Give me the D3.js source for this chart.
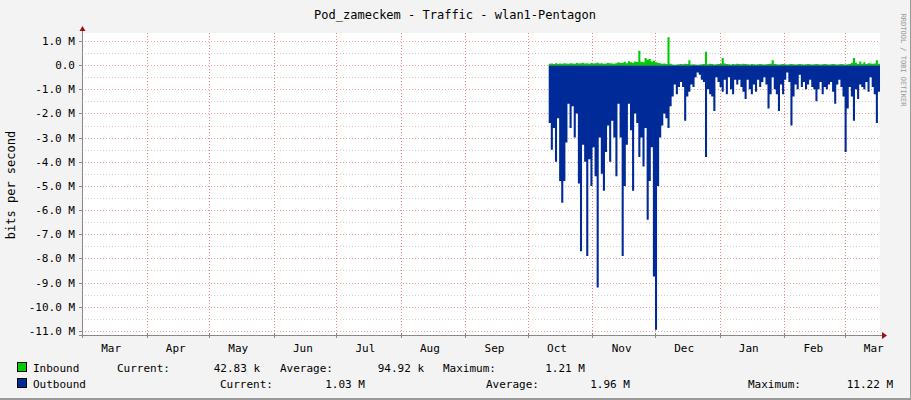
<!DOCTYPE html>
<html><head><meta charset="utf-8">
<script src="https://cdn.jsdelivr.net/npm/d3@7"></script>
<style>body{margin:0;background:#f3f3f3}svg text{font-family:"DejaVu Sans Mono",monospace;font-size:11px;fill:#000}</style>
</head><body><svg id="c" width="911" height="400"></svg>
<script>
const title = "Pod_zameckem - Traffic - wlan1-Pentagon";
const dataStart = "2015-10-11";
const outbound = [2.4,3.5,2.6,4.0,2.2,4.8,5.7,4.8,3.2,1.6,2.6,1.7,3.0,2.0,4.9,7.7,3.3,4.0,7.9,3.9,
5.0,3.4,4.6,9.2,3.0,4.5,5.2,3.6,2.5,4.0,2.3,3.0,4.6,1.6,3.0,7.9,5.0,3.3,1.6,2.7,
5.2,2.0,2.4,3.8,3.0,4.2,2.6,6.4,4.8,3.4,8.75,10.95,5.0,3.0,2.5,2.0,2.2,2.6,1.7,1.3,
0.8,1.2,0.9,0.7,0.9,2.3,1.3,1.1,0.8,0.9,0.5,0.3,0.4,0.6,0.7,3.8,1.0,1.2,1.3,1.9,
0.5,0.7,0.9,1.1,0.6,1.2,0.5,1.0,1.2,0.6,0.8,0.6,0.9,1.1,1.4,0.6,1.0,1.2,0.8,1.1,
0.6,0.9,0.7,0.5,0.8,1.8,1.2,0.5,1.0,1.2,1.9,0.8,1.2,0.6,0.3,0.7,2.5,1.3,0.8,1.0,
0.4,0.9,0.7,1.0,0.8,0.6,0.9,1.0,1.5,1.0,0.7,1.2,0.9,1.0,0.8,0.7,1.1,1.6,0.8,0.6,
0.9,1.3,3.6,1.8,0.9,1.3,2.3,1.0,1.4,0.8,0.9,1.0,0.7,1.1,0.5,0.9,1.2,2.4,1.1,1.0];
const inbound = [0.06,0.07,0.05,0.08,0.06,0.07,0.06,0.08,0.07,0.06,0.08,0.07,0.06,0.09,0.07,0.08,0.1,0.07,0.08,0.06,
0.09,0.07,0.08,0.1,0.07,0.08,0.06,0.07,0.09,0.08,0.07,0.06,0.08,0.12,0.09,0.1,0.14,0.08,0.16,0.12,
0.1,0.15,0.13,0.6,0.14,0.12,0.3,0.22,0.25,0.15,0.18,0.12,0.1,0.08,0.06,0.07,0.05,1.15,0.06,0.03,
0.02,0.03,0.04,0.05,0.04,0.06,0.05,0.2,0.03,0.04,0.03,0.02,0.03,0.04,0.05,0.55,0.04,0.06,0.05,0.03,
0.04,0.05,0.06,0.3,0.07,0.05,0.04,0.03,0.05,0.04,0.06,0.05,0.04,0.06,0.05,0.04,0.03,0.05,0.04,0.03,
0.04,0.05,0.04,0.03,0.04,0.05,0.06,0.2,0.05,0.04,0.03,0.04,0.05,0.04,0.03,0.04,0.05,0.04,0.03,0.04,
0.05,0.04,0.03,0.04,0.05,0.04,0.03,0.04,0.05,0.04,0.03,0.04,0.05,0.04,0.03,0.04,0.05,0.04,0.03,0.04,
0.05,0.04,0.03,0.04,0.05,0.1,0.3,0.1,0.05,0.15,0.06,0.12,0.05,0.08,0.07,0.06,0.07,0.2,0.06,0.05];
const monthLabels = ["Mar","Apr","May","Jun","Jul","Aug","Sep","Oct","Nov","Dec","Jan","Feb","Mar"];
const yTicks = [1,0,-1,-2,-3,-4,-5,-6,-7,-8,-9,-10,-11];
const legendRows = [
 {name:"Inbound",color:"#00cc00",items:[["Current:",117],["42.83 k",260,"end"],["Average:",280],["94.92 k",424,"end"],["Maximum:",443],["1.21 M",585,"end"]]},
 {name:"Outbound",color:"#002a97",items:[["Current:",220],["1.03 M",365,"end"],["Average:",486],["1.96 M",630,"end"],["Maximum:",748],["11.22 M",893,"end"]]}
];

const svg = d3.select("#c");
const L=82,R=880,T=33,B=335;
const t0=new Date(2015,2,1), t1=d3.timeDay.offset(t0,383);
const x=d3.scaleTime().domain([t0,t1]).range([L,R]);
const y=d3.scaleLinear().domain([-11.17,1.33]).range([B,T]);
// frame
svg.append("rect").attr("x",0).attr("y",0).attr("width",911).attr("height",400).attr("fill","#f3f3f3");
svg.append("line").attr("x1",910.5).attr("x2",910.5).attr("y1",0).attr("y2",400).attr("stroke","#999").attr("stroke-width",1);
svg.append("line").attr("x1",0).attr("x2",911).attr("y1",399).attr("y2",399).attr("stroke","#999").attr("stroke-width",2);
svg.append("rect").attr("x",L).attr("y",T).attr("width",R-L).attr("height",B-T).attr("fill","#fff");
// grids
const g=svg.append("g");
d3.range(-11,1.5,0.5).forEach(v=>{
 const major=Number.isInteger(v);
 g.append("line").attr("x1",L).attr("x2",R).attr("y1",Math.round(y(v))+0.5).attr("y2",Math.round(y(v))+0.5)
  .attr("stroke",major?"#e8a0a0":"#cfcfcf").attr("stroke-dasharray","1,2");
});
const months=d3.timeMonth.range(d3.timeMonth.offset(t0,1),t1);
months.forEach(m=>g.append("line").attr("x1",Math.round(x(m))+0.5).attr("x2",Math.round(x(m))+0.5).attr("y1",T).attr("y2",B)
 .attr("stroke","#f08080").attr("stroke-dasharray","1,2"));
// data
const s=new Date(dataStart+"T00:00:00");
const pts=outbound.map((v,i)=>({t:d3.timeDay.offset(s,i),o:-v,n:inbound[i]}));
pts.push({t:t1,o:-outbound[outbound.length-1],n:inbound[inbound.length-1]});
svg.append("path").datum(pts).attr("fill","#002a97")
 .attr("d",d3.area().curve(d3.curveStepAfter).x(d=>x(d.t)).y0(y(0)).y1(d=>y(d.o)));
svg.append("path").datum(pts).attr("fill","#00cc00")
 .attr("d",d3.area().curve(d3.curveStepAfter).x(d=>x(d.t)).y0(y(0)).y1(d=>y(d.n)));
// axes
svg.append("line").attr("x1",L-3).attr("x2",R+2).attr("y1",B+0.5).attr("y2",B+0.5).attr("stroke","#888");
svg.append("line").attr("x1",L+0.5).attr("x2",L+0.5).attr("y1",T-4).attr("y2",B+3).attr("stroke","#888");
svg.append("path").attr("d",`M${R+2},${B-3}L${R+7},${B+0.5}L${R+2},${B+4}Z`).attr("fill","#a01010");
svg.append("path").attr("d",`M${L-2.5},${T-2}L${L+0.5},${T-7}L${L+3.5},${T-2}Z`).attr("fill","#a01010");
yTicks.forEach(v=>{
 svg.append("line").attr("x1",L-3).attr("x2",L).attr("y1",Math.round(y(v))+0.5).attr("y2",Math.round(y(v))+0.5).attr("stroke","#888");
 svg.append("text").attr("x",75).attr("y",y(v)+4).attr("text-anchor","end").text(v===0?"0.0":v.toFixed(1)+" M");
});
months.concat([t0]).forEach(m=>svg.append("line").attr("x1",Math.round(x(m))+0.5).attr("x2",Math.round(x(m))+0.5).attr("y1",B-2).attr("y2",B+3).attr("stroke","#888"));
monthLabels.forEach((lab,i)=>{
 const mid=d3.timeDay.offset(d3.timeMonth.offset(t0,i),14);
 svg.append("text").attr("x",x(mid)).attr("y",352).attr("text-anchor","middle").text(lab);
});
svg.append("text").attr("x",455).attr("y",19).attr("text-anchor","middle").style("font-size","12px").text(title);
svg.append("text").attr("transform","translate(15,185) rotate(-90)").attr("text-anchor","middle").style("font-size","12px").text("bits per second");
svg.append("text").attr("transform","translate(901,60) rotate(90)").attr("text-anchor","middle").style("font-size","7px").style("fill","#999").text("RRDTOOL / TOBI OETIKER");
legendRows.forEach((r,i)=>{
 const yy=372+i*16;
 svg.append("rect").attr("x",17.5).attr("y",yy-9.5).attr("width",9).attr("height",9).attr("fill",r.color).attr("stroke","#000");
 svg.append("text").attr("x",33).attr("y",yy).text(r.name);
 r.items.forEach(it=>svg.append("text").attr("x",it[1]).attr("y",yy).attr("text-anchor",it[2]||"start").text(it[0]));
});
</script></body></html>
